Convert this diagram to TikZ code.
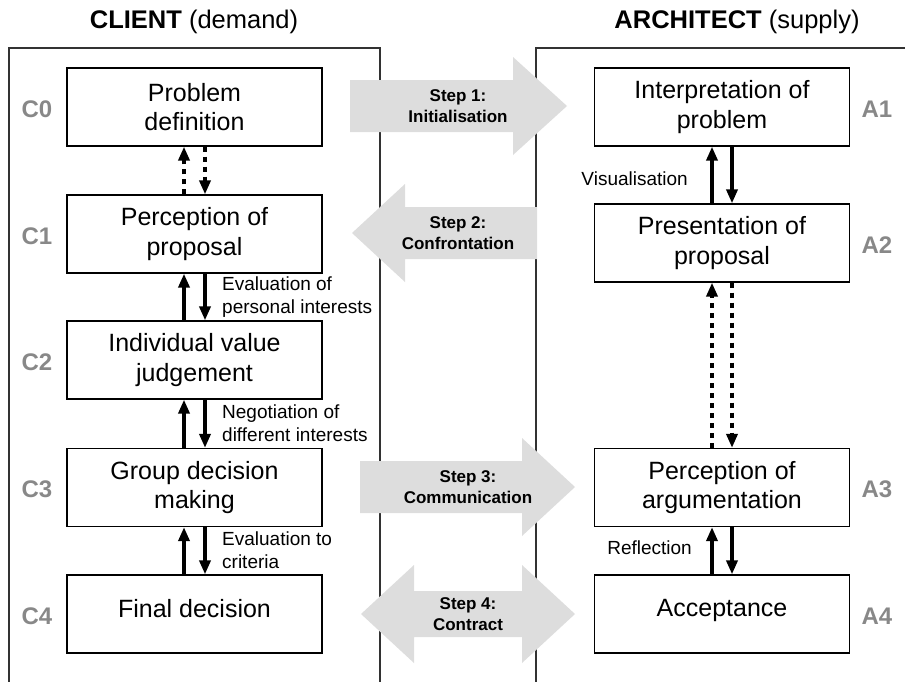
\documentclass[tikz,border=0pt]{standalone}
\usepackage{fontspec}
\setmainfont{Liberation Sans}
\usetikzlibrary{arrows.meta}
\definecolor{stepgray}{RGB}{221,221,221}
\definecolor{idgray}{RGB}{136,136,136}
\definecolor{framegray}{RGB}{50,50,50}
\begin{document}
\begin{tikzpicture}[x=1pt,y=-1pt,
  stagebox/.style={draw=black, line width=1.3pt, fill=white,
    minimum width=255pt, minimum height=78pt, inner sep=0pt,
    align=center, font=\fontsize{25}{29.5}\selectfont},
  stageid/.style={text=idgray, font=\bfseries\fontsize{24}{28}\selectfont},
  title/.style={font=\fontsize{25.5}{30}\selectfont},
  note/.style={font=\fontsize{19}{23}\selectfont, inner sep=0pt},
  steplabel/.style={align=center, inner sep=0pt,
    font=\bfseries\fontsize{17}{20.5}\selectfont},
  frame/.style={draw=framegray, line width=1.2pt},
  bigarrow/.style={fill=stepgray},
  flow/.style={line width=4.5pt, -{Triangle[length=14pt,width=11pt]}},
  flowdot/.style={flow, dash pattern=on 5pt off 5pt}
]
\useasboundingbox (0,0) rectangle (905,681);

% column frames, open at the bottom
\draw[frame] (9,682) -- (9,48) -- (380,48) -- (380,682);
\draw[frame] (536,682) -- (536,48) -- (906,48);

% column titles
\node[title] (tclient) at (194,22) {\textbf{CLIENT} (demand)};
\node[title] (tarch) at (737,22) {\textbf{ARCHITECT} (supply)};

% step arrows between the two columns
\fill[bigarrow] (350,80) -- (513,80) -- (513,57) -- (567,106) -- (513,155)
  -- (513,132) -- (350,132) -- cycle;
\node[steplabel] (s1) at (458,106) {Step 1:\\Initialisation};

\fill[bigarrow] (537,207) -- (405,207) -- (405,184) -- (352,233) -- (405,282)
  -- (405,259) -- (537,259) -- cycle;
\node[steplabel] (s2) at (458,233) {Step 2:\\Confrontation};

\fill[bigarrow] (360,461) -- (522,461) -- (522,438) -- (575,487) -- (522,536)
  -- (522,513) -- (360,513) -- cycle;
\node[steplabel] (s3) at (468,487) {Step 3:\\Communication};

\fill[bigarrow] (361,614) -- (414,565) -- (414,591) -- (522,591) -- (522,565)
  -- (575,614) -- (522,663) -- (522,637) -- (414,637) -- (414,663) -- cycle;
\node[steplabel] (s4) at (468,614) {Step 4:\\Contract};

% client stages
\node[stagebox] (C0) at (194.5,107) {Problem\\definition};
\node[stagebox] (C1) at (194.5,234) {Perception of\\proposal};
\node[stagebox] (C2) at (194.5,360) {Individual value\\judgement};
\node[stagebox] (C3) at (194.5,487.5) {Group decision\\making};
\node[stagebox, text depth=12pt] (C4) at (194.5,614) {Final decision};

\node[stageid] (c0id) at (37,109) {C0};
\node[stageid] (c1id) at (37,236) {C1};
\node[stageid] (c2id) at (37,362) {C2};
\node[stageid] (c3id) at (37,489) {C3};
\node[stageid] (c4id) at (37,616) {C4};

% architect stages
\node[stagebox] (A1) at (722,107) {Interpretation of\\problem};
\node[stagebox] (A2) at (722,243) {Presentation of\\proposal};
\node[stagebox] (A3) at (722,487.5) {Perception of\\argumentation};
\node[stagebox, text depth=12pt] (A4) at (722,614) {Acceptance};

\node[stageid] (a1id) at (877,109) {A1};
\node[stageid] (a2id) at (877,245) {A2};
\node[stageid] (a3id) at (877,489) {A3};
\node[stageid] (a4id) at (877,616) {A4};

% client feedback loops
\draw[flowdot] ([xshift=-10.5pt]C1.north) -- ([xshift=-10.5pt]C0.south);
\draw[flowdot] ([xshift=10.5pt]C0.south) -- ([xshift=10.5pt]C1.north);
\draw[flow] ([xshift=-10.5pt]C2.north) -- ([xshift=-10.5pt]C1.south);
\draw[flow] ([xshift=10.5pt]C1.south) -- ([xshift=10.5pt]C2.north);
\draw[flow] ([xshift=-10.5pt]C3.north) -- ([xshift=-10.5pt]C2.south);
\draw[flow] ([xshift=10.5pt]C2.south) -- ([xshift=10.5pt]C3.north);
\draw[flow] ([xshift=-10.5pt]C4.north) -- ([xshift=-10.5pt]C3.south);
\draw[flow] ([xshift=10.5pt]C3.south) -- ([xshift=10.5pt]C4.north);

% architect feedback loops
\draw[flow] ([xshift=-10pt]A2.north) -- ([xshift=-10pt]A1.south);
\draw[flow] ([xshift=10pt]A1.south) -- ([xshift=10pt]A2.north);
\draw[flowdot] ([xshift=-10pt]A3.north) -- ([xshift=-10pt]A2.south);
\draw[flowdot] ([xshift=10pt]A2.south) -- ([xshift=10pt]A3.north);
\draw[flow] ([xshift=-10pt]A4.north) -- ([xshift=-10pt]A3.south);
\draw[flow] ([xshift=10pt]A3.south) -- ([xshift=10pt]A4.north);

% loop annotations
\node[note, anchor=west, align=left] (n12) at (222,297) {Evaluation of\\personal interests};
\node[note, anchor=west, align=left] (n23) at (222,423) {Negotiation of\\different interests};
\node[note, anchor=west, align=left] (n34) at (222,550) {Evaluation to\\criteria};
\node[note, anchor=east] (nvis) at (688,179) {Visualisation};
\node[note, anchor=east] (nref) at (692,548) {Reflection};
\end{tikzpicture}
\end{document}
